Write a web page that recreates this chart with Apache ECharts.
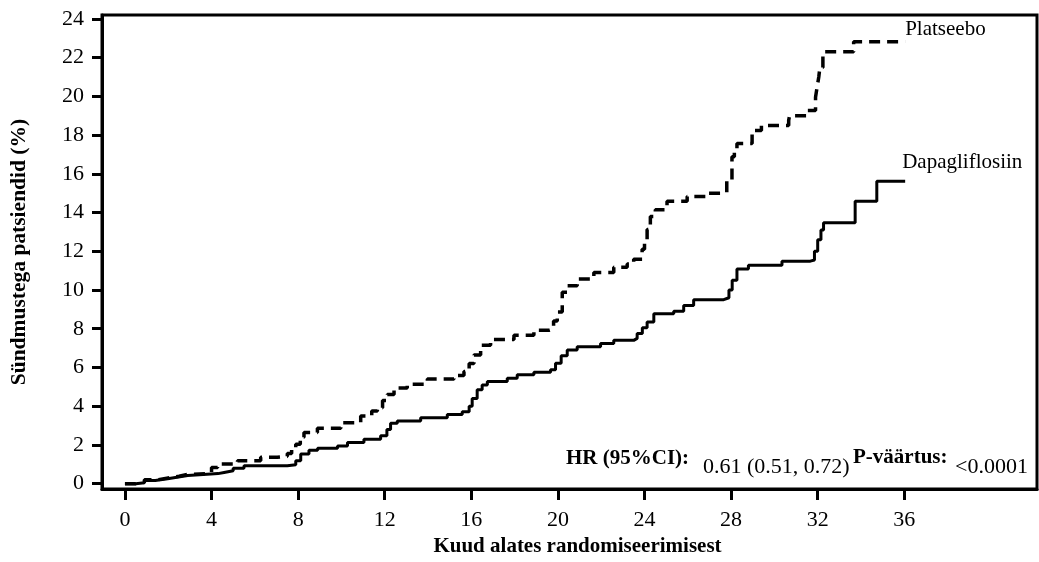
<!DOCTYPE html>
<html>
<head>
<meta charset="utf-8">
<script src="https://cdn.jsdelivr.net/npm/echarts@6/dist/echarts.min.js"></script>
<style>
  html, body { margin: 0; padding: 0; background: #fff; }
  #chart { width: 1039px; height: 562px; }
</style>
</head>
<body>
<div id="chart"></div>
<script>
// Cumulative incidence (Kaplan–Meier style step curves), months vs. % of patients with events
const dapaMonths = [0, 0.5, 0.9, 1.4, 1.97, 2.4, 2.9, 3.97, 4.3, 4.58, 5.0, 5.5, 7.5, 7.89, 8.12, 8.5, 8.9,
  9.82, 10.28, 11.04, 11.81, 12.1, 12.27, 12.58, 13.66, 14.89, 15.58, 15.9, 16.04, 16.27, 16.5, 16.74,
  17.66, 18.12, 18.89, 19.66, 19.89, 20.15, 20.43, 20.89, 21.97, 22.58, 23.5, 23.66, 23.9, 24.12, 24.43,
  25.35, 25.81, 26.27, 27.66, 27.9, 28.05, 28.27, 28.8, 30.35, 31.66, 31.85, 32.0, 32.15, 32.27,
  33.73, 34.73, 36.04];
const dapaValues = [0, 0.05, 0.16, 0.25, 0.33, 0.42, 0.5, 0.52, 0.58, 0.67, 0.8, 0.93, 0.98, 1.19, 1.53, 1.72, 1.83,
  1.95, 2.12, 2.29, 2.47, 2.8, 3.12, 3.23, 3.4, 3.57, 3.71, 4.0, 4.4, 4.85, 5.1, 5.28,
  5.45, 5.62, 5.75, 5.88, 6.22, 6.6, 6.9, 7.07, 7.24, 7.4, 7.5, 7.75, 8.05, 8.35, 8.78,
  8.9, 9.2, 9.5, 9.6, 10.0, 10.5, 11.08, 11.28, 11.49, 11.55, 12.0, 12.6, 13.1, 13.47,
  14.58, 15.62, 15.62];

const placeboMonths = [0, 0.5, 0.9, 1.5, 2.0, 2.5, 2.9, 3.8, 4.0, 4.28, 5.2, 6.27, 7.04, 7.5, 7.7, 7.89, 8.1, 8.27,
  8.89, 9.97, 10.89, 11.4, 11.66, 11.9, 12.12, 12.43, 13.04, 13.97, 15.2, 15.66, 15.9, 16.12, 16.43, 16.89,
  17.97, 18.89, 19.58, 19.8, 19.97, 20.2, 20.43, 20.89, 21.66, 22.58, 23.2, 23.5, 23.89, 24.0, 24.12, 24.27,
  24.5, 25.04, 25.97, 26.9, 27.58, 27.8, 28.04, 28.15, 28.27, 28.97, 29.4, 30.66, 30.7, 31.5, 31.9, 31.97,
  32.05, 32.1, 32.24, 33.66, 36.04];
const placeboValues = [0, 0.08, 0.2, 0.3, 0.38, 0.48, 0.52, 0.6, 0.84, 1.01, 1.19, 1.36, 1.41, 1.56, 1.8, 2.04, 2.4, 2.64,
  2.86, 3.15, 3.5, 3.75, 3.92, 4.3, 4.6, 4.94, 5.14, 5.4, 5.59, 5.79, 6.2, 6.64, 7.15, 7.45,
  7.67, 7.92, 8.0, 8.4, 8.86, 9.89, 10.22, 10.57, 10.91, 11.17, 11.34, 11.59, 12.1, 12.6, 13.13, 13.8,
  14.15, 14.58, 14.83, 15.0, 15.04, 15.69, 16.88, 17.3, 17.56, 18.24, 18.5, 18.76, 19.0, 19.27, 19.95, 20.46,
  21.0, 21.49, 22.3, 22.82, 22.82];

const xTicks = [0, 4, 8, 12, 16, 20, 24, 28, 32, 36];
const yTicks = [0, 2, 4, 6, 8, 10, 12, 14, 16, 18, 20, 22, 24];

const seriesNames = ['Platseebo', 'Dapagliflosiin'];
const xAxisTitle = 'Kuud alates randomiseerimisest';
const yAxisTitle = 'Sündmustega patsiendid (%)';
const hrLabel = 'HR (95%CI):';
const hrValue = '0.61 (0.51, 0.72)';
const pLabel = 'P-väärtus:';
const pValue = '<0.0001';

const zip = (xs, ys) => xs.map((x, i) => [x, ys[i]]);
const serif = '"Liberation Serif", "Times New Roman", serif';

const chart = echarts.init(document.getElementById('chart'), null, { renderer: 'canvas' });

chart.setOption({
  animation: false,
  backgroundColor: '#fff',
  grid: {
    left: 101, right: 2, top: 15, bottom: 70,
    show: true, borderColor: '#000', borderWidth: 3, backgroundColor: 'transparent'
  },
  xAxis: {
    type: 'value',
    min: -1.06, max: 42.13,
    name: xAxisTitle,
    nameLocation: 'middle',
    nameGap: 39,
    nameTextStyle: { fontFamily: serif, fontWeight: 'bold', fontSize: 21, color: '#000', padding: [0, 0, 0, 16] },
    axisLine: { show: true, onZero: false, lineStyle: { color: '#000', width: 3 } },
    axisTick: { show: true, customValues: xTicks, length: 11, lineStyle: { color: '#000', width: 3 } },
    axisLabel: { customValues: xTicks, margin: 20, fontFamily: serif, fontSize: 22, color: '#000' },
    splitLine: { show: false }
  },
  yAxis: {
    type: 'value',
    min: -0.28, max: 24.2,
    name: yAxisTitle,
    nameLocation: 'middle',
    nameGap: 72,
    nameTextStyle: { fontFamily: serif, fontWeight: 'bold', fontSize: 21.5, color: '#000' },
    axisLine: { show: true, onZero: false, lineStyle: { color: '#000', width: 3 } },
    axisTick: { show: true, customValues: yTicks, length: 10, lineStyle: { color: '#000', width: 3 } },
    axisLabel: { customValues: yTicks, margin: 18, fontFamily: serif, fontSize: 22, color: '#000' },
    splitLine: { show: false }
  },
  series: [
    {
      name: seriesNames[0],
      type: 'line',
      step: 'end',
      symbol: 'none',
      data: zip(placeboMonths, placeboValues),
      lineStyle: { color: '#000', width: 3.5, type: [11, 7] },
      endLabel: {
        show: true, formatter: seriesNames[0], distance: 0, offset: [0, -12],
        fontFamily: serif, fontSize: 21, color: '#000'
      }
    },
    {
      name: seriesNames[1],
      type: 'line',
      step: 'end',
      symbol: 'none',
      data: zip(dapaMonths, dapaValues),
      lineStyle: { color: '#000', width: 3, type: 'solid' },
      endLabel: {
        show: true, formatter: seriesNames[1], distance: 0, offset: [-3, -19],
        fontFamily: serif, fontSize: 21, color: '#000'
      }
    }
  ],
  graphic: [
    { type: 'text', x: 566, y: 459, style: { text: hrLabel, font: 'bold 21px ' + serif, fill: '#000', verticalAlign: 'middle' } },
    { type: 'text', x: 703, y: 467, style: { text: hrValue, font: '22px ' + serif, fill: '#000', verticalAlign: 'middle' } },
    { type: 'text', x: 853, y: 458, style: { text: pLabel, font: 'bold 21px ' + serif, fill: '#000', verticalAlign: 'middle' } },
    { type: 'text', x: 955, y: 467, style: { text: pValue, font: '22px ' + serif, fill: '#000', verticalAlign: 'middle' } }
  ]
});
</script>
</body>
</html>
